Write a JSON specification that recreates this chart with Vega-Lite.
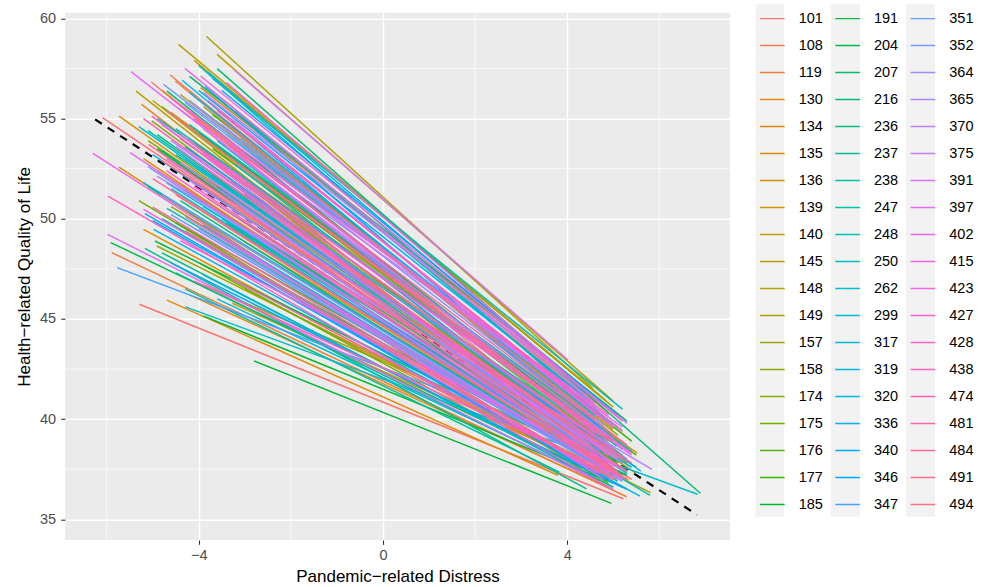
{
  "$schema": "https://vega.github.io/schema/vega-lite/v6.json",
  "width": 665,
  "height": 527.3,
  "autosize": {"type": "none"},
  "padding": {"left": 65, "top": 12.7, "right": 256, "bottom": 47},
  "background": "#FFFFFF",
  "datasets": {
    "minorx": [{"x": -6}, {"x": -2}, {"x": 2}, {"x": 6}],
    "minory": [{"y": 37.5}, {"y": 42.5}, {"y": 47.5}, {"y": 52.5}, {"y": 57.5}],
    "fixed": [{"x": -6.25, "y": 54.96, "x2": 6.82, "y2": 35.22}],
    "lines": [
      {"id": "101", "x": -5.03, "y": 56.82, "x2": 4.6, "y2": 38.7},
      {"id": "101", "x": -5.29, "y": 45.73, "x2": 5.22, "y2": 36.03},
      {"id": "101", "x": -3.9, "y": 54.5, "x2": 4.8, "y2": 39.0},
      {"id": "101", "x": -4.3, "y": 53.0, "x2": 5.1, "y2": 38.3},
      {"id": "108", "x": -4.62, "y": 57.17, "x2": 5.0, "y2": 39.2},
      {"id": "108", "x": -4.9, "y": 51.3, "x2": 5.4, "y2": 37.0},
      {"id": "108", "x": -3.6, "y": 54.4, "x2": 4.7, "y2": 39.2},
      {"id": "108", "x": -3.0, "y": 46.5, "x2": 4.5, "y2": 37.5},
      {"id": "119", "x": -4.51, "y": 56.87, "x2": 5.3, "y2": 38.5},
      {"id": "119", "x": -5.89, "y": 48.31, "x2": 5.29, "y2": 36.13},
      {"id": "119", "x": -4.9, "y": 52.4, "x2": 5.0, "y2": 37.9},
      {"id": "130", "x": -5.24, "y": 55.71, "x2": 4.8, "y2": 37.9},
      {"id": "130", "x": -3.7, "y": 52.2, "x2": 5.0, "y2": 38.1},
      {"id": "130", "x": -4.8, "y": 56.4, "x2": 4.5, "y2": 39.7},
      {"id": "130", "x": -4.2, "y": 46.2, "x2": 4.7, "y2": 36.8},
      {"id": "134", "x": -5.2, "y": 49.47, "x2": 4.9, "y2": 37.0},
      {"id": "134", "x": -4.69, "y": 45.94, "x2": 3.8, "y2": 37.2},
      {"id": "134", "x": -4.6, "y": 55.3, "x2": 5.2, "y2": 38.8},
      {"id": "135", "x": -3.96, "y": 56.54, "x2": 5.11, "y2": 40.24},
      {"id": "135", "x": -5.2, "y": 53.0, "x2": 4.7, "y2": 37.7},
      {"id": "135", "x": -3.2, "y": 56.2, "x2": 4.8, "y2": 41.0},
      {"id": "136", "x": -5.73, "y": 55.12, "x2": 4.9, "y2": 37.8},
      {"id": "136", "x": -3.27, "y": 45.78, "x2": 4.8, "y2": 37.4},
      {"id": "136", "x": -4.1, "y": 52.2, "x2": 5.3, "y2": 37.8},
      {"id": "139", "x": -5.73, "y": 52.58, "x2": 4.5, "y2": 37.2},
      {"id": "139", "x": -4.2, "y": 54.0, "x2": 5.52, "y2": 38.3},
      {"id": "139", "x": -3.5, "y": 56.0, "x2": 4.9, "y2": 40.3},
      {"id": "139", "x": -3.3, "y": 55.5, "x2": 4.6, "y2": 40.7},
      {"id": "140", "x": -4.4, "y": 56.2, "x2": 5.0, "y2": 39.5},
      {"id": "140", "x": -3.1, "y": 49.0, "x2": 4.6, "y2": 38.1},
      {"id": "140", "x": -4.1, "y": 57.9, "x2": 4.7, "y2": 41.2},
      {"id": "145", "x": -5.36, "y": 56.37, "x2": 4.4, "y2": 38.7},
      {"id": "145", "x": -4.3, "y": 52.1, "x2": 5.5, "y2": 37.3},
      {"id": "145", "x": -3.6, "y": 58.2, "x2": 5.0, "y2": 40.9},
      {"id": "148", "x": -4.44, "y": 58.7, "x2": 4.85, "y2": 40.9},
      {"id": "148", "x": -5.0, "y": 55.9, "x2": 4.5, "y2": 39.0},
      {"id": "148", "x": -3.0, "y": 55.8, "x2": 5.0, "y2": 40.6},
      {"id": "149", "x": -3.83, "y": 59.09, "x2": 4.55, "y2": 41.57},
      {"id": "149", "x": -3.89, "y": 46.68, "x2": 5.0, "y2": 38.0},
      {"id": "157", "x": -4.91, "y": 48.64, "x2": 5.81, "y2": 36.33},
      {"id": "157", "x": -3.9, "y": 55.6, "x2": 5.1, "y2": 39.2},
      {"id": "157", "x": -3.2, "y": 51.7, "x2": 5.1, "y2": 38.3},
      {"id": "158", "x": -4.8, "y": 55.6, "x2": 4.9, "y2": 38.9},
      {"id": "158", "x": -4.6, "y": 50.6, "x2": 5.0, "y2": 37.2},
      {"id": "158", "x": -4.4, "y": 54.0, "x2": 4.8, "y2": 38.9},
      {"id": "174", "x": -5.02, "y": 54.88, "x2": 5.1, "y2": 37.7},
      {"id": "174", "x": -3.4, "y": 52.4, "x2": 4.5, "y2": 38.9},
      {"id": "174", "x": -5.1, "y": 53.9, "x2": 5.2, "y2": 38.0},
      {"id": "175", "x": -4.4, "y": 54.9, "x2": 5.2, "y2": 38.2},
      {"id": "175", "x": -5.3, "y": 50.9, "x2": 4.9, "y2": 36.8},
      {"id": "175", "x": -4.0, "y": 47.8, "x2": 4.7, "y2": 36.9},
      {"id": "176", "x": -4.1, "y": 53.8, "x2": 4.7, "y2": 38.6},
      {"id": "176", "x": -4.2, "y": 50.3, "x2": 5.3, "y2": 37.0},
      {"id": "176", "x": -3.7, "y": 53.5, "x2": 5.5, "y2": 38.2},
      {"id": "177", "x": -3.7, "y": 55.2, "x2": 5.4, "y2": 38.9},
      {"id": "177", "x": -3.8, "y": 51.0, "x2": 5.1, "y2": 37.8},
      {"id": "177", "x": -4.5, "y": 49.8, "x2": 5.0, "y2": 37.5},
      {"id": "185", "x": -3.89, "y": 45.14, "x2": 4.9, "y2": 36.9},
      {"id": "185", "x": -4.9, "y": 53.5, "x2": 4.6, "y2": 38.0},
      {"id": "185", "x": -3.4, "y": 49.8, "x2": 4.9, "y2": 37.9},
      {"id": "191", "x": -2.8, "y": 42.9, "x2": 4.96, "y2": 35.8},
      {"id": "191", "x": -4.3, "y": 51.4, "x2": 5.0, "y2": 37.9},
      {"id": "204", "x": -5.91, "y": 48.81, "x2": 5.3, "y2": 36.5},
      {"id": "204", "x": -4.95, "y": 48.89, "x2": 5.3, "y2": 37.2},
      {"id": "204", "x": -4.0, "y": 54.3, "x2": 5.0, "y2": 38.9},
      {"id": "204", "x": -3.1, "y": 54.0, "x2": 4.9, "y2": 39.8},
      {"id": "207", "x": -4.69, "y": 56.37, "x2": 5.07, "y2": 38.66},
      {"id": "207", "x": -5.1, "y": 51.6, "x2": 5.2, "y2": 37.2},
      {"id": "207", "x": -2.9, "y": 47.5, "x2": 4.9, "y2": 37.5},
      {"id": "207", "x": -4.2, "y": 57.1, "x2": 5.3, "y2": 39.9},
      {"id": "216", "x": -3.6, "y": 57.49, "x2": 6.89, "y2": 36.3},
      {"id": "216", "x": -3.6, "y": 51.6, "x2": 4.8, "y2": 38.0},
      {"id": "216", "x": -4.8, "y": 53.4, "x2": 4.6, "y2": 38.4},
      {"id": "236", "x": -4.9, "y": 54.2, "x2": 5.0, "y2": 37.9},
      {"id": "236", "x": -4.4, "y": 50.9, "x2": 4.5, "y2": 37.9},
      {"id": "236", "x": -4.5, "y": 47.3, "x2": 4.6, "y2": 37.0},
      {"id": "236", "x": -4.8, "y": 48.3, "x2": 5.0, "y2": 36.6},
      {"id": "237", "x": -5.17, "y": 48.52, "x2": 4.42, "y2": 36.52},
      {"id": "237", "x": -3.4, "y": 54.2, "x2": 5.2, "y2": 39.4},
      {"id": "237", "x": -4.0, "y": 51.0, "x2": 5.3, "y2": 37.4},
      {"id": "238", "x": -4.3, "y": 46.5, "x2": 3.83, "y2": 37.36},
      {"id": "238", "x": -5.1, "y": 54.4, "x2": 4.8, "y2": 38.3},
      {"id": "238", "x": -3.5, "y": 50.0, "x2": 4.6, "y2": 38.2},
      {"id": "247", "x": -4.69, "y": 50.52, "x2": 5.8, "y2": 36.2},
      {"id": "247", "x": -4.2, "y": 54.7, "x2": 5.0, "y2": 39.2},
      {"id": "248", "x": -4.5, "y": 53.2, "x2": 5.5, "y2": 37.6},
      {"id": "248", "x": -4.8, "y": 50.0, "x2": 5.1, "y2": 36.9},
      {"id": "248", "x": -3.2, "y": 55.4, "x2": 4.7, "y2": 40.4},
      {"id": "250", "x": -4.0, "y": 57.65, "x2": 4.8, "y2": 40.0},
      {"id": "250", "x": -3.9, "y": 50.6, "x2": 5.4, "y2": 37.6},
      {"id": "250", "x": -3.0, "y": 51.2, "x2": 5.2, "y2": 38.5},
      {"id": "250", "x": -3.7, "y": 57.0, "x2": 5.2, "y2": 40.5},
      {"id": "262", "x": -4.29, "y": 45.6, "x2": 6.83, "y2": 36.25},
      {"id": "262", "x": -4.5, "y": 54.5, "x2": 4.9, "y2": 39.0},
      {"id": "262", "x": -4.6, "y": 51.5, "x2": 4.6, "y2": 38.0},
      {"id": "299", "x": -5.2, "y": 51.8, "x2": 4.7, "y2": 37.8},
      {"id": "299", "x": -3.6, "y": 53.9, "x2": 5.0, "y2": 38.6},
      {"id": "299", "x": -3.6, "y": 46.0, "x2": 4.3, "y2": 37.4},
      {"id": "299", "x": -4.9, "y": 55.0, "x2": 5.4, "y2": 38.4},
      {"id": "317", "x": -4.0, "y": 52.6, "x2": 4.6, "y2": 38.3},
      {"id": "317", "x": -5.3, "y": 54.6, "x2": 5.1, "y2": 37.9},
      {"id": "317", "x": -3.9, "y": 49.7, "x2": 5.2, "y2": 37.0},
      {"id": "319", "x": -4.7, "y": 51.8, "x2": 5.3, "y2": 37.3},
      {"id": "319", "x": -3.2, "y": 52.7, "x2": 4.4, "y2": 39.2},
      {"id": "319", "x": -3.8, "y": 57.3, "x2": 4.4, "y2": 41.3},
      {"id": "319", "x": -3.9, "y": 47.2, "x2": 4.6, "y2": 37.1},
      {"id": "320", "x": -4.98, "y": 49.47, "x2": 5.58, "y2": 36.16},
      {"id": "320", "x": -4.2, "y": 56.3, "x2": 4.6, "y2": 40.2},
      {"id": "320", "x": -5.0, "y": 53.2, "x2": 4.9, "y2": 37.9},
      {"id": "336", "x": -4.36, "y": 56.91, "x2": 4.7, "y2": 39.6},
      {"id": "336", "x": -5.0, "y": 49.9, "x2": 4.9, "y2": 37.1},
      {"id": "336", "x": -4.0, "y": 56.4, "x2": 4.5, "y2": 40.9},
      {"id": "340", "x": -3.86, "y": 56.6, "x2": 5.0, "y2": 39.0},
      {"id": "340", "x": -3.7, "y": 50.1, "x2": 5.0, "y2": 37.6},
      {"id": "340", "x": -3.5, "y": 48.2, "x2": 4.8, "y2": 37.0},
      {"id": "346", "x": -5.17, "y": 50.25, "x2": 5.0, "y2": 36.8},
      {"id": "346", "x": -4.3, "y": 53.6, "x2": 5.6, "y2": 37.4},
      {"id": "346", "x": -3.5, "y": 56.4, "x2": 5.1, "y2": 40.2},
      {"id": "346", "x": -4.6, "y": 47.8, "x2": 5.2, "y2": 36.6},
      {"id": "347", "x": -5.77, "y": 47.56, "x2": 4.8, "y2": 38.4},
      {"id": "347", "x": -3.5, "y": 51.4, "x2": 4.7, "y2": 38.4},
      {"id": "347", "x": -4.1, "y": 55.7, "x2": 5.1, "y2": 39.6},
      {"id": "351", "x": -4.77, "y": 56.71, "x2": 4.98, "y2": 39.66},
      {"id": "351", "x": -4.6, "y": 50.2, "x2": 5.2, "y2": 36.9},
      {"id": "351", "x": -3.3, "y": 51.9, "x2": 5.3, "y2": 38.0},
      {"id": "352", "x": -4.3, "y": 55.8, "x2": 4.9, "y2": 39.4},
      {"id": "352", "x": -5.1, "y": 52.6, "x2": 4.8, "y2": 37.6},
      {"id": "352", "x": -3.7, "y": 49.3, "x2": 4.7, "y2": 37.6},
      {"id": "364", "x": -3.5, "y": 54.7, "x2": 4.8, "y2": 39.7},
      {"id": "364", "x": -4.0, "y": 49.5, "x2": 4.9, "y2": 37.3},
      {"id": "364", "x": -4.8, "y": 51.2, "x2": 5.2, "y2": 37.0},
      {"id": "365", "x": -4.6, "y": 53.9, "x2": 5.1, "y2": 38.0},
      {"id": "365", "x": -3.3, "y": 50.5, "x2": 5.2, "y2": 37.8},
      {"id": "365", "x": -4.2, "y": 55.9, "x2": 4.9, "y2": 39.8},
      {"id": "370", "x": -4.91, "y": 52.13, "x2": 5.84, "y2": 37.49},
      {"id": "370", "x": -4.4, "y": 52.8, "x2": 4.4, "y2": 38.6},
      {"id": "370", "x": -3.4, "y": 53.6, "x2": 5.0, "y2": 39.0},
      {"id": "375", "x": -4.2, "y": 51.9, "x2": 5.2, "y2": 37.5},
      {"id": "375", "x": -3.9, "y": 56.3, "x2": 5.3, "y2": 39.8},
      {"id": "375", "x": -4.5, "y": 53.6, "x2": 4.5, "y2": 38.7},
      {"id": "391", "x": -3.23, "y": 57.42, "x2": 4.02, "y2": 42.95},
      {"id": "391", "x": -4.7, "y": 53.0, "x2": 5.1, "y2": 38.0},
      {"id": "391", "x": -4.5, "y": 55.6, "x2": 5.2, "y2": 39.6},
      {"id": "397", "x": -5.47, "y": 57.34, "x2": 4.6, "y2": 39.3},
      {"id": "397", "x": -5.98, "y": 49.22, "x2": 5.0, "y2": 36.5},
      {"id": "397", "x": -3.6, "y": 52.9, "x2": 5.4, "y2": 38.2},
      {"id": "397", "x": -4.3, "y": 57.5, "x2": 4.6, "y2": 40.8},
      {"id": "402", "x": -5.49, "y": 53.3, "x2": 5.2, "y2": 37.0},
      {"id": "402", "x": -4.2, "y": 55.4, "x2": 4.7, "y2": 39.2},
      {"id": "402", "x": -3.8, "y": 52.0, "x2": 5.2, "y2": 38.0},
      {"id": "415", "x": -6.3, "y": 53.26, "x2": 4.8, "y2": 37.0},
      {"id": "415", "x": -4.8, "y": 54.7, "x2": 5.0, "y2": 38.5},
      {"id": "415", "x": -4.3, "y": 50.1, "x2": 5.1, "y2": 37.2},
      {"id": "423", "x": -5.2, "y": 50.47, "x2": 4.7, "y2": 37.3},
      {"id": "423", "x": -3.3, "y": 55.0, "x2": 5.0, "y2": 39.6},
      {"id": "423", "x": -4.4, "y": 48.9, "x2": 5.3, "y2": 37.4},
      {"id": "423", "x": -3.4, "y": 56.8, "x2": 4.3, "y2": 41.6},
      {"id": "427", "x": -3.96, "y": 57.12, "x2": 5.2, "y2": 39.9},
      {"id": "427", "x": -4.7, "y": 52.4, "x2": 4.9, "y2": 37.6},
      {"id": "427", "x": -4.6, "y": 56.0, "x2": 4.9, "y2": 40.2},
      {"id": "428", "x": -5.02, "y": 55.12, "x2": 5.0, "y2": 37.6},
      {"id": "428", "x": -3.8, "y": 55.9, "x2": 4.7, "y2": 40.1},
      {"id": "428", "x": -4.4, "y": 54.2, "x2": 5.4, "y2": 38.3},
      {"id": "438", "x": -5.97, "y": 51.13, "x2": 4.9, "y2": 36.6},
      {"id": "438", "x": -4.1, "y": 51.6, "x2": 5.1, "y2": 37.4},
      {"id": "438", "x": -3.6, "y": 55.4, "x2": 5.2, "y2": 39.4},
      {"id": "474", "x": -3.9, "y": 53.3, "x2": 4.6, "y2": 39.1},
      {"id": "474", "x": -5.2, "y": 55.0, "x2": 4.9, "y2": 38.2},
      {"id": "474", "x": -4.1, "y": 46.9, "x2": 5.0, "y2": 37.3},
      {"id": "474", "x": -3.3, "y": 47.0, "x2": 5.1, "y2": 37.0},
      {"id": "481", "x": -5.0, "y": 50.58, "x2": 5.0, "y2": 37.0},
      {"id": "481", "x": -4.1, "y": 55.0, "x2": 5.3, "y2": 38.7},
      {"id": "481", "x": -3.9, "y": 52.6, "x2": 4.8, "y2": 38.6},
      {"id": "484", "x": -5.09, "y": 53.71, "x2": 5.33, "y2": 36.95},
      {"id": "484", "x": -5.0, "y": 52.0, "x2": 5.2, "y2": 37.1},
      {"id": "484", "x": -4.7, "y": 55.4, "x2": 5.0, "y2": 38.9},
      {"id": "491", "x": -4.8, "y": 52.9, "x2": 5.4, "y2": 37.8},
      {"id": "491", "x": -3.3, "y": 53.0, "x2": 4.9, "y2": 38.9},
      {"id": "491", "x": -4.3, "y": 49.4, "x2": 5.0, "y2": 37.0},
      {"id": "494", "x": -6.09, "y": 55.04, "x2": 5.3, "y2": 37.4},
      {"id": "494", "x": -4.5, "y": 51.2, "x2": 5.0, "y2": 37.4},
      {"id": "494", "x": -3.5, "y": 54.9, "x2": 4.6, "y2": 40.0}
    ]
  },
  "layer": [
    {
      "data": {"name": "minorx"},
      "mark": {"type": "rule", "color": "#FFFFFF", "strokeWidth": 0.7},
      "encoding": {
        "x": {"field": "x", "type": "quantitative", "scale": {"domain": [-6.904, 7.535], "nice": false, "zero": false}, "axis": {"title": "Pandemic−related Distress", "values": [-4, 0, 4]}}
      }
    },
    {
      "data": {"name": "minory"},
      "mark": {"type": "rule", "color": "#FFFFFF", "strokeWidth": 0.7},
      "encoding": {
        "y": {"field": "y", "type": "quantitative", "scale": {"domain": [33.97, 60.28], "nice": false, "zero": false}, "axis": {"title": "Health−related Quality of Life", "values": [35, 40, 45, 50, 55, 60]}}
      }
    },
    {
      "data": {"name": "fixed"},
      "mark": {"type": "rule", "color": "#000000", "strokeWidth": 2.2, "strokeDash": [8, 7]},
      "encoding": {
        "x": {"field": "x", "type": "quantitative", "scale": {"domain": [-6.904, 7.535], "nice": false, "zero": false}, "axis": {"title": "Pandemic−related Distress", "values": [-4, 0, 4]}},
        "y": {"field": "y", "type": "quantitative", "scale": {"domain": [33.97, 60.28], "nice": false, "zero": false}, "axis": {"title": "Health−related Quality of Life", "values": [35, 40, 45, 50, 55, 60]}},
        "x2": {"field": "x2"},
        "y2": {"field": "y2"}
      }
    },
    {
      "data": {"name": "lines"},
      "mark": {"type": "rule", "strokeWidth": 1.5},
      "encoding": {
        "x": {"field": "x", "type": "quantitative", "scale": {"domain": [-6.904, 7.535], "nice": false, "zero": false}, "axis": {"title": "Pandemic−related Distress", "values": [-4, 0, 4]}},
        "y": {"field": "y", "type": "quantitative", "scale": {"domain": [33.97, 60.28], "nice": false, "zero": false}, "axis": {"title": "Health−related Quality of Life", "values": [35, 40, 45, 50, 55, 60]}},
        "x2": {"field": "x2"},
        "y2": {"field": "y2"},
        "color": {
          "field": "id",
          "type": "nominal",
          "scale": {
            "domain": ["101","108","119","130","134","135","136","139","140","145","148","149","157","158","174","175","176","177","185","191","204","207","216","236","237","238","247","248","250","262","299","317","319","320","336","340","346","347","351","352","364","365","370","375","391","397","402","415","423","427","428","438","474","481","484","491","494"],
            "range": ["#F8766D","#F37B59","#ED813E","#E7861B","#E38900","#DC8D00","#D69100","#CE9500","#C49A00","#BB9D00","#B2A100","#A8A400","#9CA700","#8DAB00","#80AD00","#6DB000","#53B400","#39B600","#00B82B","#00BA38","#00BB4C","#00BD60","#00BE71","#00BF80","#00C08E","#00C19B","#00C1A8","#00C0B4","#00BFBE","#00BEC9","#00BCD2","#00BADB","#00B8E4","#00B5EE","#00B1F4","#00ACFB","#00A7FF","#45A1FF","#619CFF","#7C96FF","#978FFF","#A988FF","#BA81FF","#CA7AFE","#D675FA","#E26EF6","#EA69F0","#F166E7","#F763DE","#FC62D5","#FF61CB","#FF62BF","#FF63B3","#FE66A6","#FD6A98","#FB6E8A","#FA727B"]
          },
          "legend": {
            "orient": "none",
            "legendX": 690.5,
            "legendY": -8.7,
            "title": null,
            "columns": 3,
            "padding": 0,
            "symbolLimit": 100,
            "symbolType": "M-0.911,0L0.911,0L0.911,-0.703L-0.911,-0.703L-0.911,0.703L0.911,0.703Z",
            "symbolSize": 711.3,
            "symbolOffset": 2.165,
            "symbolFillColor": "transparent",
            "symbolStrokeWidth": 1.4,
            "symbolDash": [24.3, 1000],
            "symbolOpacity": 1,
            "labelFont": "Liberation Sans",
            "labelFontSize": 14.5,
            "labelColor": "#000000",
            "labelOffset": 12,
            "rowPadding": 0,
            "columnPadding": 7.3,
            "encode": {
              "entries": {
                "update": {
                  "fill": {"value": {"gradient": "linear", "x1": 0, "y1": 0, "x2": 1, "y2": 0, "stops": [{"offset": 0, "color": "#F2F2F2"}, {"offset": 0.43, "color": "#F2F2F2"}, {"offset": 0.43, "color": "#FFFFFF"}, {"offset": 1, "color": "#FFFFFF"}]}}
                }
              }
            }
          }
        }
      }
    }
  ],
  "config": {
    "view": {"fill": "#EBEBEB", "stroke": null},
    "axis": {
      "domain": false,
      "grid": true,
      "gridColor": "#FFFFFF",
      "gridWidth": 1.4,
      "tickColor": "#333333",
      "tickSize": 4.3,
      "tickWidth": 1.1,
      "labelColor": "#4D4D4D",
      "labelFont": "Liberation Sans",
      "labelFontSize": 14.5,
      "titleFont": "Liberation Sans",
      "titleFontSize": 17,
      "titleFontWeight": "normal",
      "titleColor": "#000000"
    },
    "axisX": {"labelPadding": 4, "titleBaseline": "alphabetic", "titleY": 41},
    "axisY": {"labelPadding": 5, "titleBaseline": "alphabetic", "titleX": -35.5}
  }
}
